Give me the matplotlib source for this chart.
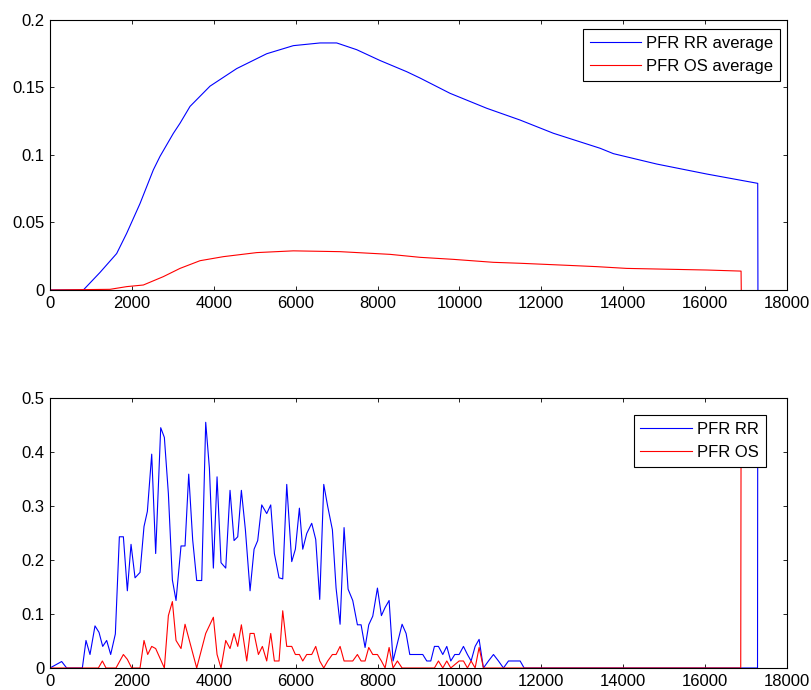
import matplotlib
matplotlib.use('Agg')
import matplotlib.pyplot as plt
from matplotlib.ticker import FormatStrFormatter

plt.rcParams['font.family'] = ['Liberation Sans', 'DejaVu Sans']

# Top panel: running averages
rr_avg_x = [0, 814, 1221, 1628, 1873, 2198, 2524, 2687, 3012, 3175, 3420, 3908, 4559, 5292,
            5943, 6595, 7002, 7491, 8060, 8713, 9038, 9770, 10667, 11480, 12294, 13434,
            13760, 14819, 16041, 17285, 17290]
rr_avg_y = [0, 0, 0.013, 0.027, 0.042, 0.064, 0.089, 0.099, 0.116, 0.1235, 0.136, 0.151, 0.164,
            0.175, 0.181, 0.183, 0.183, 0.178, 0.170, 0.1617, 0.157, 0.1457, 0.1346, 0.1259,
            0.1161, 0.105, 0.101, 0.0933, 0.0859, 0.079, 0]

os_avg_x = [0, 1466, 1873, 2280, 2768, 3175, 3664, 4234, 5048, 5943, 7084, 8305, 9038, 9851,
            10829, 11480, 12620, 13353, 14086, 16041, 16878, 16883]
os_avg_y = [0, 0.0005, 0.0025, 0.0037, 0.0099, 0.016, 0.0217, 0.0247, 0.0277, 0.029, 0.0284,
            0.0264, 0.0242, 0.0227, 0.0205, 0.0198, 0.0183, 0.0173, 0.016, 0.0148, 0.014, 0]

# Bottom panel: per-bin values
rr_x = [0, 285, 407, 790, 879, 977, 1099, 1197, 1287, 1384, 1482, 1596, 1694, 1792, 1889, 1979,
        2077, 2199, 2296, 2378, 2484, 2581, 2704, 2793, 2891, 2989, 3078, 3200, 3298, 3388,
        3485, 3583, 3705, 3803, 3893, 3990, 4080, 4177, 4292, 4397, 4495, 4585, 4674, 4772,
        4886, 4984, 5073, 5171, 5293, 5391, 5480, 5594, 5684, 5782, 5904, 5993, 6091, 6173,
        6270, 6392, 6490, 6588, 6686, 6783, 6897, 6987, 7085, 7182, 7280, 7394, 7508, 7598,
        7695, 7785, 7883, 7997, 8094, 8184, 8282, 8379, 8485, 8599, 8697, 8787, 8876, 8998,
        9104, 9202, 9300, 9389, 9487, 9593, 9691, 9788, 9886, 9992, 10098, 10195, 10285,
        10383, 10480, 10586, 10709, 10831, 10953, 11075, 11197, 11319, 11482, 11580, 17280,
        17285]
rr_y = [0, 0.012, 0, 0, 0.051, 0.025, 0.078, 0.066, 0.040, 0.051, 0.025, 0.063,
        0.243, 0.243, 0.143, 0.229, 0.167, 0.177, 0.262, 0.290, 0.396, 0.212,
        0.445, 0.427, 0.323, 0.163, 0.125, 0.226, 0.226, 0.359, 0.237, 0.162,
        0.162, 0.455, 0.370, 0.185, 0.354, 0.195, 0.185, 0.329, 0.236, 0.243,
        0.329, 0.256, 0.143, 0.220, 0.236, 0.302, 0.286, 0.302, 0.212, 0.167,
        0.165, 0.340, 0.197, 0.220, 0.296,
        0.220, 0.249, 0.268, 0.238, 0.127, 0.340, 0.299, 0.256, 0.148, 0.081,
        0.260, 0.146, 0.125, 0.080, 0.080, 0.038, 0.080, 0.096, 0.148, 0.097,
        0.112, 0.125, 0.013, 0.046, 0.081, 0.064, 0.025, 0.025, 0.025, 0.025,
        0.013, 0.013, 0.040, 0.040, 0.025, 0.040, 0.013, 0.025, 0.025, 0.040,
        0.025, 0.013, 0.040, 0.053, 0, 0.013, 0.025, 0.013, 0, 0.013,
        0.013, 0.013, 0, 0, 0.45]

os_x = [0, 1181, 1279, 1368, 1612, 1792, 1889, 1995, 2199, 2296, 2386, 2484, 2581, 2793, 2891,
        2989, 3078, 3200, 3298, 3583, 3803, 3990, 4080, 4177, 4292, 4397, 4495, 4585, 4674,
        4805, 4886, 4984, 5090, 5187, 5293, 5391, 5480, 5594, 5684, 5782, 5904, 5993, 6091,
        6173, 6270, 6392, 6490, 6588, 6686, 6783, 6897, 6987, 7085, 7182, 7280, 7394, 7508,
        7598, 7695, 7785, 7883, 7997, 8094, 8184, 8282, 8379, 8485, 8599, 9389, 9487, 9593,
        9691, 9788, 9992, 10098, 10195, 10285, 10383, 10480, 10586, 16870, 16878]
os_y = [0, 0, 0.013, 0, 0, 0.025, 0.016, 0, 0, 0.051,
        0.025, 0.040, 0.036, 0, 0.097, 0.123, 0.051, 0.036, 0.081, 0,
        0.064, 0.094, 0.025, 0, 0.051, 0.036, 0.064, 0.040, 0.080, 0.013,
        0.064, 0.064, 0.025, 0.040, 0.013, 0.064, 0.013, 0.013, 0.106, 0.040,
        0.040, 0.025, 0.025, 0.013, 0.025, 0.025, 0.040, 0.013, 0, 0.013,
        0.025, 0.025, 0.040, 0.013, 0.013, 0.013, 0.025, 0.013, 0.013, 0.038,
        0.025, 0.025, 0.013, 0, 0.038, 0, 0.013, 0, 0, 0.013,
        0, 0.013, 0, 0.013, 0.013, 0, 0.013, 0, 0.038, 0,
        0, 0.42]

x_ticks = list(range(0, 18001, 2000))

fig = plt.figure(figsize=(8.11, 6.9), dpi=100)
ax1 = fig.add_axes([50 / 811, 1 - 290 / 690, 737 / 811, 270 / 690])
ax2 = fig.add_axes([50 / 811, 1 - 668 / 690, 737 / 811, 270 / 690])


def style(ax, ymax, ystep):
    ax.set_xlim(0, 18000)
    ax.set_ylim(0, ymax)
    ax.set_xticks(x_ticks)
    n = int(round(ymax / ystep))
    ax.set_yticks([i * ystep for i in range(n + 1)])
    ax.yaxis.set_major_formatter(FormatStrFormatter('%g'))
    ax.tick_params(direction='in', top=True, right=True, length=3, width=0.6,
                   labelsize=12, pad=4)
    for s in ax.spines.values():
        s.set_linewidth(0.8)


def add_legend(ax, anchor):
    leg = ax.legend(loc='upper right', bbox_to_anchor=anchor, borderaxespad=0,
                    fancybox=False, edgecolor='black', framealpha=1, fontsize=12,
                    handlelength=3.1, handletextpad=0.3, borderpad=0.4)
    leg.get_frame().set_linewidth(0.8)


ax1.plot(rr_avg_x, rr_avg_y, color='blue', lw=0.8, label='PFR RR average')
ax1.plot(os_avg_x, os_avg_y, color='red', lw=0.8, label='PFR OS average')
style(ax1, 0.2, 0.05)
add_legend(ax1, (0.9905, 0.9656))

ax2.plot(rr_x, rr_y, color='blue', lw=0.8, label='PFR RR')
ax2.plot(os_x, os_y, color='red', lw=0.8, label='PFR OS')
style(ax2, 0.5, 0.1)
add_legend(ax2, (0.971, 0.937))

fig.savefig('out.png', dpi=100)
